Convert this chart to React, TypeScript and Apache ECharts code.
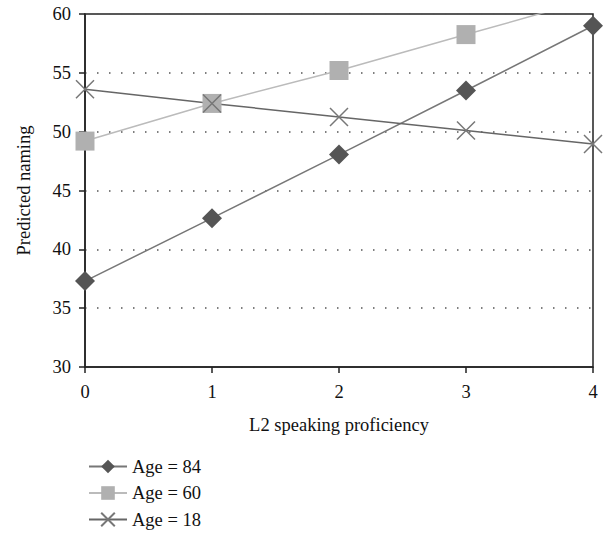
import React, { useEffect, useRef } from "react";
import * as echarts from "echarts";

const xValues = [0, 1, 2, 3, 4];
const age84 = [37.3, 42.65, 48.05, 53.5, 59.0];
const age60 = [49.2, 52.4, 55.2, 58.25, 61.3];
const age18 = [53.6, 52.4, 51.25, 50.1, 48.95];
const seriesNames = ["Age = 84", "Age = 60", "Age = 18"];

const FONT = "Liberation Serif";
const FS = 18.5;

export default function App() {
  const ref = useRef<HTMLDivElement>(null);
  useEffect(() => {
    if (!ref.current) return;
    const chart = echarts.init(ref.current, null, { renderer: "svg" });
    const pair = (arr: number[]) => xValues.map((x, i) => [x, arr[i]]);
    const cross = "path://M0,0L10,10M10,0L0,10";
    chart.setOption({
      animation: false,
      textStyle: { fontFamily: FONT },
      grid: {
        left: 85,
        right: 13,
        top: 14,
        bottom: 172,
        show: true,
        borderColor: "#222",
        borderWidth: 1.5,
        backgroundColor: "transparent",
      },
      xAxis: {
        type: "value",
        min: 0,
        max: 4,
        interval: 1,
        name: "L2 speaking proficiency",
        nameLocation: "middle",
        nameGap: 48,
        nameTextStyle: { fontFamily: FONT, fontSize: FS, color: "#111" },
        axisLine: { show: true, lineStyle: { color: "#222", width: 1.5 } },
        axisTick: { show: true, inside: false, length: 6, lineStyle: { color: "#222", width: 1.5 } },
        axisLabel: { fontFamily: FONT, fontSize: FS, color: "#111", margin: 15 },
        splitLine: { show: false },
      },
      yAxis: {
        type: "value",
        min: 30,
        max: 60,
        interval: 5,
        name: "Predicted naming",
        nameLocation: "middle",
        nameGap: 52,
        nameTextStyle: { fontFamily: FONT, fontSize: FS, color: "#111" },
        axisLine: { show: true, lineStyle: { color: "#222", width: 1.5 } },
        axisTick: { show: true, inside: false, length: 6, lineStyle: { color: "#222", width: 1.5 } },
        axisLabel: { fontFamily: FONT, fontSize: FS, color: "#111", margin: 14 },
        splitLine: {
          show: true,
          lineStyle: { color: "#555", type: [1.5, 10.5], width: 1.5 },
        },
      },
      legend: {
        orient: "vertical",
        left: 83,
        top: 452,
        itemWidth: 38,
        itemHeight: 17,
        itemGap: 7.5,
        textStyle: { fontFamily: FONT, fontSize: FS, color: "#111" },
        data: seriesNames,
      },
      series: [
        {
          name: seriesNames[0],
          type: "line",
          data: pair(age84),
          symbol: "diamond",
          symbolSize: 20,
          clip: true,
          lineStyle: { color: "#777", width: 1.5 },
          itemStyle: { color: "#555" },
        },
        {
          name: seriesNames[1],
          type: "line",
          data: pair(age60),
          symbol: "rect",
          symbolSize: 19,
          clip: true,
          lineStyle: { color: "#bbb", width: 1.5 },
          itemStyle: { color: "#b0b0b0" },
        },
        {
          name: seriesNames[2],
          type: "line",
          data: pair(age18),
          symbol: cross,
          symbolSize: 18,
          clip: true,
          lineStyle: { color: "#666", width: 1.5 },
          itemStyle: { color: "transparent", borderColor: "#777", borderWidth: 1.5 },
        },
      ],
    });
    return () => chart.dispose();
  }, []);
  return <div ref={ref} style={{ width: 606, height: 539, position: "absolute", left: 0, top: 0 }} />;
}
